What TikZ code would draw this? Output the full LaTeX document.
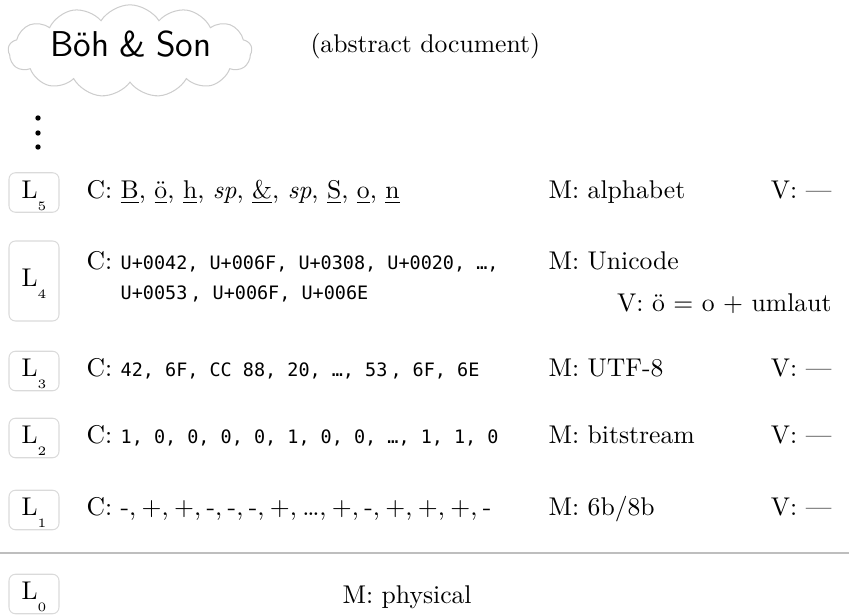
\documentclass[tikz,border=0pt]{standalone}
\usepackage{fontspec}
\setmonofont[Scale=0.72]{DejaVu Sans Mono}
\usepackage{tikz}
\usetikzlibrary{shapes.symbols}
\definecolor{boxgray}{RGB}{218, 218, 218}
\definecolor{cloudgray}{RGB}{205, 205, 205}
\definecolor{rulegray}{RGB}{190, 190, 190}

% layer label with a dropped subscript
\newcommand{\layername}[1]{L\smash{\raisebox{-4.7pt}{\tiny #1}}}

\begin{document}
\begin{tikzpicture}[x=0.39pt, y=-0.39pt,
  layerbox/.style={draw=boxgray, rounded corners=2.5pt, minimum width=19.5pt,
    minimum height=15.4pt, text height=6.8pt, text depth=2.5pt, inner sep=0pt},
  ctext/.style={anchor=base west, inner sep=0pt},
  mtext/.style={anchor=base west, inner sep=0pt},
  vtext/.style={anchor=base east, inner sep=0pt}]
\useasboundingbox (0,0) rectangle (849,615);

% the abstract document
\node[cloud, draw=cloudgray, cloud puffs=13, cloud puff arc=115, aspect=2.6,
  minimum width=95pt, minimum height=36pt, inner sep=0pt] (doc) at (130,51) {};
\node[anchor=base, inner sep=0pt, font=\sffamily\fontsize{14}{16}\selectfont\addfontfeatures{LetterSpace=10}]
  (doctext) at (131,57) {Böh\hspace{4pt}\&\hspace{4pt}Son};
\node[anchor=base west, inner sep=0pt] (abstract) at (310,53) {(abstract document)};

% more layers above
\foreach \y in {118,133,147} \fill (38,\y) circle[radius=1.05pt];

% layer boxes
\node[layerbox] (l5) at (34,192.5) {\layername{5}};
\node[layerbox, minimum height=31.2pt] (l4) at (34,281) {\layername{4}};
\node[layerbox] (l3) at (34,371) {\layername{3}};
\node[layerbox] (l2) at (34,438) {\layername{2}};
\node[layerbox] (l1) at (34,510) {\layername{1}};
\node[layerbox] (l0) at (34,594) {\layername{0}};

% L5
\node[ctext] (c5) at (86,198.5) {C: \underline{B}, \underline{ö}, \underline{h}, \textit{sp}, \underline{\&}, \textit{sp}, \underline{S}, \underline{o}, \underline{n}};
\node[mtext] (m5) at (548,198.5) {M: alphabet};
\node[vtext] (v5) at (832,198.5) {V: ---};

% L4
\node[ctext, align=left] (c4) at (86,300) {C: \texttt{U+0042, U+006F, U+0308, U+0020, …,}\\
  \phantom{C: }\texttt{U+0053\,, U+006F, U+006E}};
\node[mtext] (m4) at (548,270) {M: Unicode};
\node[vtext] (v4) at (832,312) {V: ö $=$ o $+$ umlaut};

% L3
\node[ctext] (c3) at (86,377) {C: \texttt{42, 6F, CC 88, 20, …, 53\,, 6F, 6E}};
\node[mtext] (m3) at (548,377) {M: UTF-8};
\node[vtext] (v3) at (832,377) {V: ---};

% L2
\node[ctext] (c2) at (86,444) {C: \texttt{1, 0, 0, 0, 0, 1, 0, 0, …, 1, 1, 0}};
\node[mtext] (m2) at (548,444) {M: bitstream};
\node[vtext] (v2) at (832,444) {V: ---};

% L1
\node[ctext] (c1) at (86,516) {C: {\spaceskip=2.1pt -, +, +, -, -, -, +, …, +, -, +, +, +, -}};
\node[mtext] (m1) at (548,516) {M: 6b/8b};
\node[vtext] (v1) at (832,516) {V: ---};

% physical medium below the rule
\draw[rulegray, line width=0.5pt] (0,553) -- (849,553);
\node[mtext] (m0) at (342,603) {M: physical};
\end{tikzpicture}
\end{document}
